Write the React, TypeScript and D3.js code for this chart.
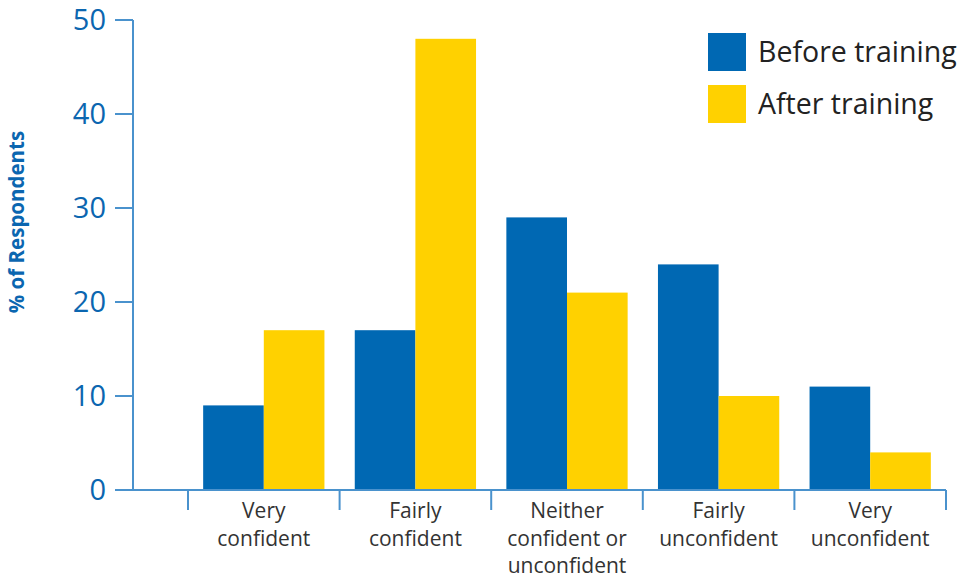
import React from "react";
import * as d3 from "d3";

// Confidence categories (multi-line labels) and survey results in percent
const categories = [
  "Very confident",
  "Fairly confident",
  "Neither confident or unconfident",
  "Fairly unconfident",
  "Very unconfident",
];
const categoryLines = [
  ["Very", "confident"],
  ["Fairly", "confident"],
  ["Neither", "confident or", "unconfident"],
  ["Fairly", "unconfident"],
  ["Very", "unconfident"],
];
const seriesNames = ["Before training", "After training"];
const beforeTraining = [9, 17, 29, 24, 11];
const afterTraining = [17, 48, 21, 10, 4];
const yTicks = [0, 10, 20, 30, 40, 50];

const W = 970;
const H = 579;
const BLUE = "#0068b3";
const YELLOW = "#ffd100";
const AXIS = "#4a92cd";
const LABEL_BLUE = "#0b66b0";
const FONT = "'Open Sans', 'Noto Sans', sans-serif";

export default function App() {
  const axisX = 133;
  const tickLeft = 115;
  const y = d3.scaleLinear().domain([0, 50]).range([490, 20]);
  const x0 = d3
    .scaleBand<string>()
    .domain(categories)
    .range([188, 946])
    .paddingInner(0.2)
    .paddingOuter(0.1);
  const x1 = d3
    .scaleBand<string>()
    .domain(seriesNames)
    .range([0, x0.bandwidth()]);
  const color = d3.scaleOrdinal<string, string>().domain(seriesNames).range([BLUE, YELLOW]);
  const values = [beforeTraining, afterTraining];
  const step = x0.step();
  const half = (step * x0.paddingInner()) / 2;
  const boundaries = [
    ...categories.map((c) => (x0(c) as number) - half),
    (x0(categories[categories.length - 1]) as number) + x0.bandwidth() + half,
  ];
  const y0 = y(0);

  return (
    <svg
      width={W}
      height={H}
      style={{ position: "absolute", left: 0, top: 0, background: "#fff" }}
      fontFamily={FONT}
    >
      {/* bars */}
      {categories.map((c, i) => (
        <g key={c} transform={`translate(${x0(c)},0)`}>
          {seriesNames.map((s, k) => (
            <rect
              key={s}
              x={x1(s)}
              y={y(values[k][i])}
              width={x1.bandwidth()}
              height={y0 - y(values[k][i])}
              fill={color(s)}
            />
          ))}
        </g>
      ))}

      {/* y axis */}
      <line x1={axisX} x2={axisX} y1={y(50)} y2={y0} stroke={AXIS} strokeWidth={2} />
      {yTicks.map((t) => (
        <g key={t}>
          <line x1={tickLeft} x2={axisX} y1={y(t)} y2={y(t)} stroke={AXIS} strokeWidth={2} />
          <text
            x={106}
            y={y(t)}
            dy="0.36em"
            textAnchor="end"
            fontSize={29}
            fill={LABEL_BLUE}
          >
            {t}
          </text>
        </g>
      ))}
      <text
        transform={`translate(24,222) rotate(-90)`}
        textAnchor="middle"
        fontSize={20.5}
        fontWeight="bold"
        fill={LABEL_BLUE}
      >
        % of Respondents
      </text>

      {/* x axis */}
      <line
        x1={tickLeft}
        x2={boundaries[boundaries.length - 1]}
        y1={y0}
        y2={y0}
        stroke={AXIS}
        strokeWidth={2}
      />
      {boundaries.map((b, i) => (
        <line key={i} x1={b} x2={b} y1={y0} y2={y0 + 20} stroke={AXIS} strokeWidth={2} />
      ))}
      {categories.map((c, i) => (
        <text
          key={c}
          x={(x0(c) as number) + x0.bandwidth() / 2}
          y={518}
          textAnchor="middle"
          fontSize={21}
          fill="#333"
        >
          {categoryLines[i].map((line, j) => (
            <tspan key={j} x={(x0(c) as number) + x0.bandwidth() / 2} dy={j === 0 ? 0 : 27.5}>
              {line}
            </tspan>
          ))}
        </text>
      ))}

      {/* legend */}
      {seriesNames.map((s, k) => (
        <g key={s} transform={`translate(708,${33 + k * 52})`}>
          <rect width={38} height={38} fill={color(s)} />
          <text x={50} y={29} fontSize={28.5} fill="#222">
            {s}
          </text>
        </g>
      ))}
    </svg>
  );
}
